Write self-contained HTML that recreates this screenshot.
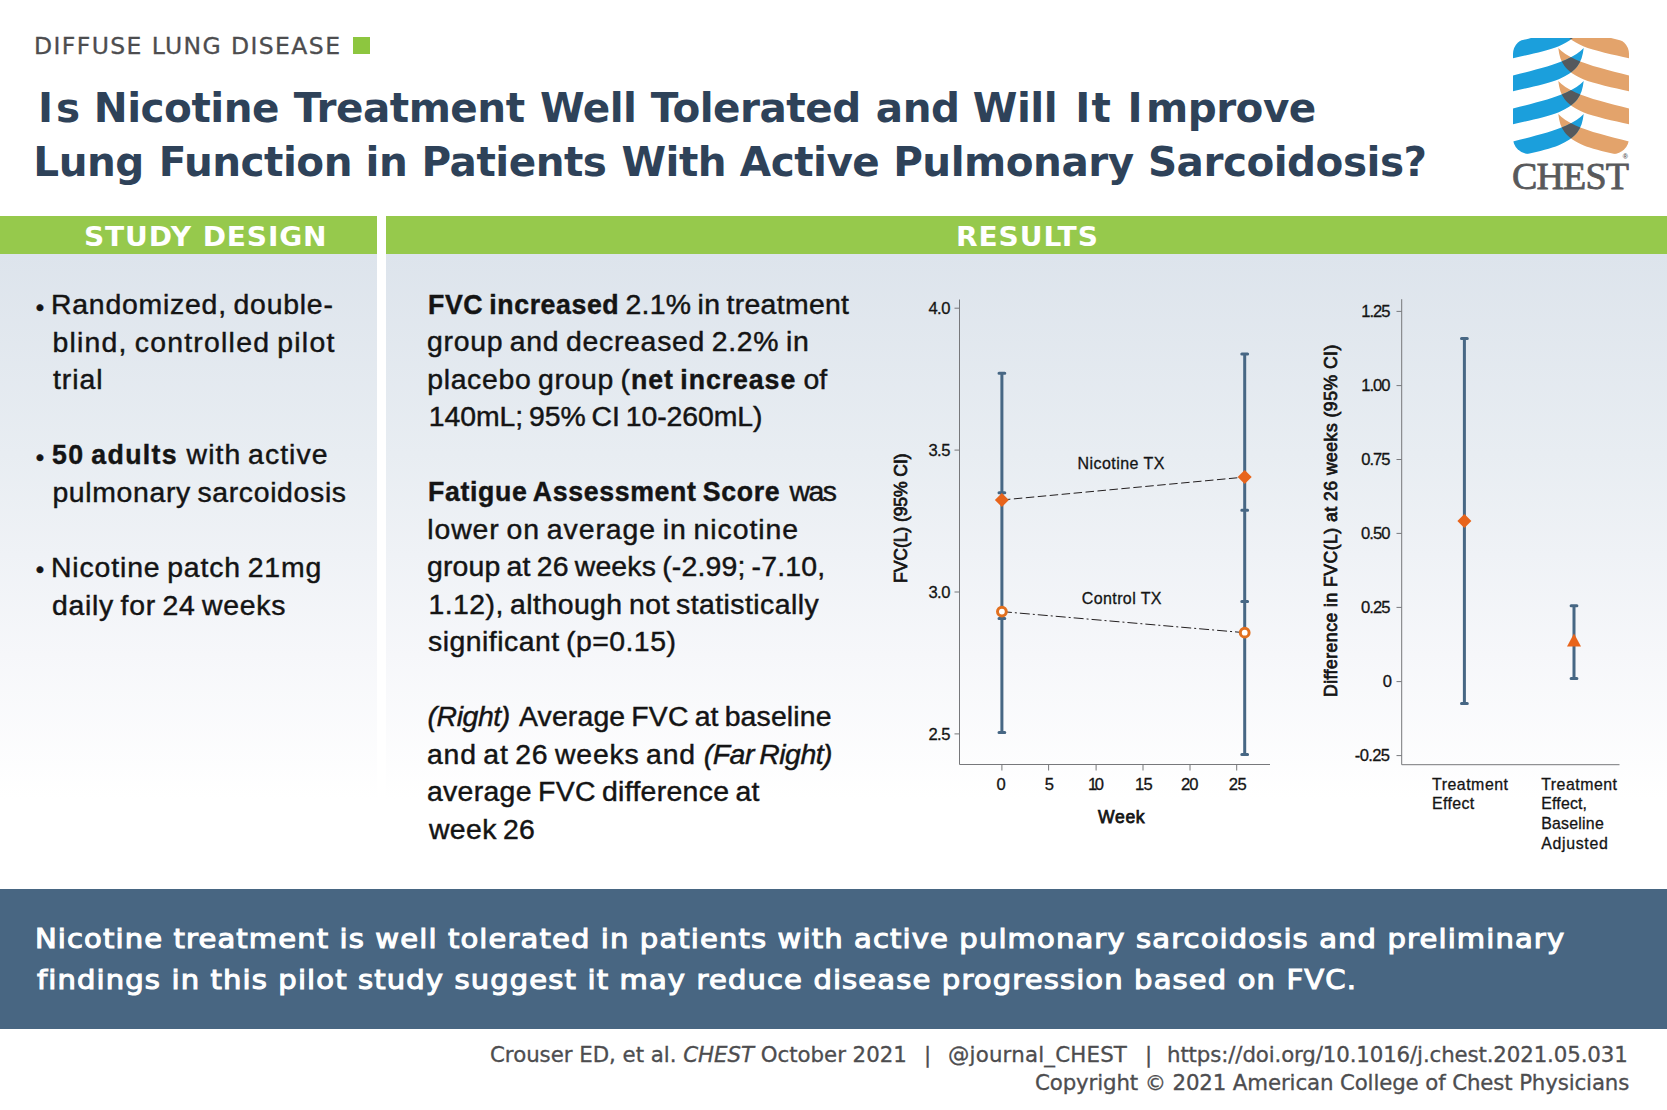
<!DOCTYPE html>
<html lang="en">
<head>
<meta charset="utf-8">
<title>Is Nicotine Treatment Well Tolerated and Will It Improve Lung Function in Patients With Active Pulmonary Sarcoidosis?</title>
<style>
html,body{margin:0;padding:0;background:#fff;}
body{width:1667px;height:1110px;overflow:hidden;position:relative;font-family:"Liberation Sans","DejaVu Sans",sans-serif;}
#page{position:absolute;left:0;top:0;width:1667px;height:1110px;overflow:hidden;background:#fff;}
.t{position:absolute;white-space:nowrap;margin:0;padding:0;}
.t i{font-style:italic;}
.sq{position:absolute;left:353px;top:37px;width:17px;height:17px;background:#8dc63f;}
.bar{position:absolute;top:216px;height:38px;background:#96c94c;}
.bar.l{left:0;width:377px;}
.bar.r{left:386px;width:1281px;}
.panel{position:absolute;top:254px;height:635px;background:linear-gradient(to bottom,#dde4ec 0px,#e8edf2 200px,#f6f7fa 400px,#ffffff 545px);}
.panel.l{left:0;width:377px;}
.panel.r{left:386px;width:1281px;}
.banner{position:absolute;left:0;top:889px;width:1667px;height:140px;background:#486682;}
svg{position:absolute;overflow:visible;}
.rot{position:absolute;white-space:nowrap;transform-origin:0 0;transform:rotate(-90deg);color:#141414;font-weight:400;-webkit-text-stroke:0.75px #141414;}
h1{margin:0;padding:0;font-size:inherit;font-weight:inherit;}
.f1{font:400 22.4px/22.4px "DejaVu Sans", "Liberation Sans", sans-serif;color:#4d4d4f;-webkit-text-stroke:0.3px #4d4d4f;transform:scaleX(1.05);transform-origin:0 50%;}
.f2{font:700 40.5px/40.5px "DejaVu Sans", "Liberation Sans", sans-serif;color:#2e4259;}
.f3{font:400 38px/38px "Liberation Serif", "DejaVu Serif", serif;color:#58595b;-webkit-text-stroke:0.8px #58595b;}
.f4{font:700 7px/7px "Liberation Sans", "DejaVu Sans", sans-serif;color:#58595b;}
.f5{font:700 26.5px/26.5px "DejaVu Sans", "Liberation Sans", sans-serif;color:#fff;transform:scaleX(1.06);transform-origin:0 50%;}
.f6{font:400 24px/24px "Liberation Sans", "DejaVu Sans", sans-serif;color:#141414;-webkit-text-stroke:0.45px #141414;word-spacing:-2px;}
.f7{font:400 28.4px/28.4px "Liberation Sans", "DejaVu Sans", sans-serif;color:#141414;-webkit-text-stroke:0.45px #141414;word-spacing:-2px;}
.f8{font:700 28.4px/28.4px "Liberation Sans", "DejaVu Sans", sans-serif;color:#141414;-webkit-text-stroke:0.45px #141414;word-spacing:-2px;transform:scaleX(0.94);transform-origin:0 50%;}
.f9{font:italic 400 28.4px/28.4px "Liberation Sans", "DejaVu Sans", sans-serif;color:#141414;-webkit-text-stroke:0.45px #141414;word-spacing:-2px;}
.f10{font:400 16.6px/16.6px "Liberation Sans", "DejaVu Sans", sans-serif;color:#141414;-webkit-text-stroke:0.3px #141414;}
.f11{font:400 17.6px/17.6px "Liberation Sans", "DejaVu Sans", sans-serif;color:#141414;-webkit-text-stroke:0.75px #141414;}
.f12{font:400 16.0px/16.0px "Liberation Sans", "DejaVu Sans", sans-serif;color:#141414;-webkit-text-stroke:0.3px #141414;}
.f13{font:400 15.9px/15.9px "Liberation Sans", "DejaVu Sans", sans-serif;color:#141414;-webkit-text-stroke:0.3px #141414;}
.f14{font:400 26.9px/26.9px "DejaVu Sans", "Liberation Sans", sans-serif;color:#fff;-webkit-text-stroke:1.1px #fff;transform:scaleX(1.08);transform-origin:0 50%;}
.f15{font:400 20.5px/20.5px "DejaVu Sans", "Liberation Sans", sans-serif;color:#4d4d4f;-webkit-text-stroke:0.3px #4d4d4f;transform:scaleX(1.04);transform-origin:0 50%;}
</style>

</head>
<body>
<div id="page">
<header>
<span class="t f1" id="cat" style="left:34.20px;top:34.61px;letter-spacing:1.321px">DIFFUSE LUNG DISEASE</span>
<h1>
<span class="t f2" id="t1_0" style="left:38.10px;top:87.71px;letter-spacing:-0.500px">I</span><span class="t f2" id="t1_1" style="left:55.95px;top:87.71px;letter-spacing:-0.500px">s </span>
<span class="t f2" id="t1_2" style="left:93.80px;top:87.71px;letter-spacing:-0.500px">Nicotine </span>
<span class="t f2" id="t1_3" style="left:293.85px;top:87.71px;letter-spacing:-0.500px">Treatment </span>
<span class="t f2" id="t1_4" style="left:540.00px;top:87.71px;letter-spacing:-0.500px">Well </span>
<span class="t f2" id="t1_5" style="left:650.65px;top:87.71px;letter-spacing:-0.500px">Tolerated </span>
<span class="t f2" id="t1_6" style="left:875.85px;top:87.71px;letter-spacing:-0.500px">and </span>
<span class="t f2" id="t1_7" style="left:972.75px;top:87.71px;letter-spacing:-0.500px">Will </span>
<span class="t f2" id="t1_8" style="left:1075.20px;top:87.71px;letter-spacing:-0.500px">I</span><span class="t f2" id="t1_9" style="left:1091.40px;top:87.71px;letter-spacing:-0.500px">t </span>
<span class="t f2" id="t1_10" style="left:1127.60px;top:87.71px;letter-spacing:-0.500px">I</span><span class="t f2" id="t1_11" style="left:1145.95px;top:87.71px;letter-spacing:-0.500px">mprove </span>
<span class="t f2" id="t2_0" style="left:33.35px;top:141.71px;letter-spacing:-0.500px">Lung </span>
<span class="t f2" id="t2_1" style="left:158.75px;top:141.71px;letter-spacing:-0.500px">Function </span>
<span class="t f2" id="t2_2" style="left:365.55px;top:141.71px;letter-spacing:-0.500px">in </span>
<span class="t f2" id="t2_3" style="left:421.50px;top:141.71px;letter-spacing:-0.500px">Patients </span>
<span class="t f2" id="t2_4" style="left:621.40px;top:141.71px;letter-spacing:-0.500px">With </span>
<span class="t f2" id="t2_5" style="left:739.85px;top:141.71px;letter-spacing:-0.500px">Active </span>
<span class="t f2" id="t2_6" style="left:893.20px;top:141.71px;letter-spacing:-0.500px">Pulmonary </span>
<span class="t f2" id="t2_7" style="left:1147.95px;top:141.71px;letter-spacing:-0.500px">Sarcoidosis? </span>
</h1>
<div class="sq"></div>
<div class="logo">
<svg width="116" height="116" viewBox="0 0 116 116" style="left:1513px;top:37.6px">
<defs>
<clipPath id="rr"><rect x="0" y="0" width="116" height="116" rx="16" ry="16"/></clipPath>
<clipPath id="oc">
<path transform="translate(116,-33) scale(-1,1)" d="M-2,38 L0,37.5 C20,32.6 40,27.6 53.4,21.6 C61,18 67,14 70.7,10 C69.9,17.5 68,23.5 64.5,28 C60.5,33.2 54.5,37.6 45.8,41.2 C35,45.6 15,49.8 0,53.3 L-2,53.8 Z"/>
<path transform="translate(116,0) scale(-1,1)" d="M-2,38 L0,37.5 C20,32.6 40,27.6 53.4,21.6 C61,18 67,14 70.7,10 C69.9,17.5 68,23.5 64.5,28 C60.5,33.2 54.5,37.6 45.8,41.2 C35,45.6 15,49.8 0,53.3 L-2,53.8 Z"/>
<path transform="translate(116,33) scale(-1,1)" d="M-2,38 L0,37.5 C20,32.6 40,27.6 53.4,21.6 C61,18 67,14 70.7,10 C69.9,17.5 68,23.5 64.5,28 C60.5,33.2 54.5,37.6 45.8,41.2 C35,45.6 15,49.8 0,53.3 L-2,53.8 Z"/>
<path transform="translate(116,66) scale(-1,1)" d="M-2,38 L0,37.5 C20,32.6 40,27.6 53.4,21.6 C61,18 67,14 70.7,10 C69.9,17.5 68,23.5 64.5,28 C60.5,33.2 54.5,37.6 45.8,41.2 C35,45.6 15,49.8 0,53.3 L-2,53.8 Z"/>
</clipPath>
</defs>
<g clip-path="url(#rr)">
<g fill="#e3a36b">
<path transform="translate(116,-33) scale(-1,1)" d="M-2,38 L0,37.5 C20,32.6 40,27.6 53.4,21.6 C61,18 67,14 70.7,10 C69.9,17.5 68,23.5 64.5,28 C60.5,33.2 54.5,37.6 45.8,41.2 C35,45.6 15,49.8 0,53.3 L-2,53.8 Z"/>
<path transform="translate(116,0) scale(-1,1)" d="M-2,38 L0,37.5 C20,32.6 40,27.6 53.4,21.6 C61,18 67,14 70.7,10 C69.9,17.5 68,23.5 64.5,28 C60.5,33.2 54.5,37.6 45.8,41.2 C35,45.6 15,49.8 0,53.3 L-2,53.8 Z"/>
<path transform="translate(116,33) scale(-1,1)" d="M-2,38 L0,37.5 C20,32.6 40,27.6 53.4,21.6 C61,18 67,14 70.7,10 C69.9,17.5 68,23.5 64.5,28 C60.5,33.2 54.5,37.6 45.8,41.2 C35,45.6 15,49.8 0,53.3 L-2,53.8 Z"/>
<path transform="translate(116,66) scale(-1,1)" d="M-2,38 L0,37.5 C20,32.6 40,27.6 53.4,21.6 C61,18 67,14 70.7,10 C69.9,17.5 68,23.5 64.5,28 C60.5,33.2 54.5,37.6 45.8,41.2 C35,45.6 15,49.8 0,53.3 L-2,53.8 Z"/>
</g>
<g fill="#1b9fdc">
<path transform="translate(0,-33)" d="M-2,38 L0,37.5 C20,32.6 40,27.6 53.4,21.6 C61,18 67,14 70.7,10 C69.9,17.5 68,23.5 64.5,28 C60.5,33.2 54.5,37.6 45.8,41.2 C35,45.6 15,49.8 0,53.3 L-2,53.8 Z"/>
<path transform="translate(0,0)" d="M-2,38 L0,37.5 C20,32.6 40,27.6 53.4,21.6 C61,18 67,14 70.7,10 C69.9,17.5 68,23.5 64.5,28 C60.5,33.2 54.5,37.6 45.8,41.2 C35,45.6 15,49.8 0,53.3 L-2,53.8 Z"/>
<path transform="translate(0,33)" d="M-2,38 L0,37.5 C20,32.6 40,27.6 53.4,21.6 C61,18 67,14 70.7,10 C69.9,17.5 68,23.5 64.5,28 C60.5,33.2 54.5,37.6 45.8,41.2 C35,45.6 15,49.8 0,53.3 L-2,53.8 Z"/>
<path transform="translate(0,66)" d="M-2,38 L0,37.5 C20,32.6 40,27.6 53.4,21.6 C61,18 67,14 70.7,10 C69.9,17.5 68,23.5 64.5,28 C60.5,33.2 54.5,37.6 45.8,41.2 C35,45.6 15,49.8 0,53.3 L-2,53.8 Z"/>
</g>
<g fill="#54595d" clip-path="url(#oc)">
<path transform="translate(0,-33)" d="M-2,38 L0,37.5 C20,32.6 40,27.6 53.4,21.6 C61,18 67,14 70.7,10 C69.9,17.5 68,23.5 64.5,28 C60.5,33.2 54.5,37.6 45.8,41.2 C35,45.6 15,49.8 0,53.3 L-2,53.8 Z"/>
<path transform="translate(0,0)" d="M-2,38 L0,37.5 C20,32.6 40,27.6 53.4,21.6 C61,18 67,14 70.7,10 C69.9,17.5 68,23.5 64.5,28 C60.5,33.2 54.5,37.6 45.8,41.2 C35,45.6 15,49.8 0,53.3 L-2,53.8 Z"/>
<path transform="translate(0,33)" d="M-2,38 L0,37.5 C20,32.6 40,27.6 53.4,21.6 C61,18 67,14 70.7,10 C69.9,17.5 68,23.5 64.5,28 C60.5,33.2 54.5,37.6 45.8,41.2 C35,45.6 15,49.8 0,53.3 L-2,53.8 Z"/>
<path transform="translate(0,66)" d="M-2,38 L0,37.5 C20,32.6 40,27.6 53.4,21.6 C61,18 67,14 70.7,10 C69.9,17.5 68,23.5 64.5,28 C60.5,33.2 54.5,37.6 45.8,41.2 C35,45.6 15,49.8 0,53.3 L-2,53.8 Z"/>
</g>
</g>
</svg>
<span class="t f3" id="chest" style="left:1512.00px;top:156.81px;letter-spacing:-0.875px">CHEST</span>
<span class="t f4" id="reg" style="left:1622.80px;top:152.60px;letter-spacing:0.000px">®</span>
</div>
</header>
<div class="bar l"></div>
<div class="bar r"></div>
<span class="t f5" id="sd" style="left:84.40px;top:223.50px;letter-spacing:0.791px">STUDY DESIGN</span>
<span class="t f5" id="rs" style="left:956.00px;top:223.50px;letter-spacing:0.850px">RESULTS</span>
<section class="panel l"></section>
<section class="panel r"></section>
<section class="study">
<span class="t f6" id="bu0" style="left:35.80px;top:295.51px;letter-spacing:0.000px">•</span>
<span class="t f6" id="bu1" style="left:35.80px;top:445.51px;letter-spacing:0.000px">•</span>
<span class="t f6" id="bu2" style="left:35.80px;top:558.30px;letter-spacing:0.000px">•</span>
<span class="t f7" id="lp1" style="left:51.00px;top:290.20px;letter-spacing:0.778px">Randomized, double-</span>
<span class="t f7" id="lp2" style="left:52.40px;top:327.81px;letter-spacing:1.232px">blind, controlled pilot</span>
<span class="t f7" id="lp3" style="left:53.00px;top:365.41px;letter-spacing:0.975px">trial</span>
<span class="t f8" id="lp4a" style="left:51.80px;top:440.20px;letter-spacing:1.450px">50 adults</span>
<span class="t f7" id="lp4b" style="left:186.60px;top:440.20px;letter-spacing:1.030px">with active</span>
<span class="t f7" id="lp5" style="left:52.40px;top:477.91px;letter-spacing:0.660px">pulmonary sarcoidosis</span>
<span class="t f7" id="lp6" style="left:51.00px;top:553.01px;letter-spacing:0.861px">Nicotine patch 21mg</span>
<span class="t f7" id="lp7" style="left:52.00px;top:590.71px;letter-spacing:0.718px">daily for 24 weeks</span>
</section>
<section class="results">
<span class="t f8" id="r1a" style="left:428.20px;top:289.50px;letter-spacing:0.633px">FVC increased</span>
<span class="t f7" id="r1b" style="left:625.40px;top:289.50px;letter-spacing:0.319px">2.1% in treatment</span>
<span class="t f7" id="r2" style="left:427.00px;top:327.03px;letter-spacing:0.723px">group and decreased 2.2% in</span>
<span class="t f7" id="r3a" style="left:427.20px;top:364.54px;letter-spacing:0.680px">placebo group (</span>
<span class="t f8" id="r3b" style="left:631.00px;top:364.54px;letter-spacing:1.000px">net increase</span>
<span class="t f7" id="r3c" style="left:803.40px;top:364.54px;letter-spacing:0.000px">of</span>
<span class="t f7" id="r4" style="left:428.80px;top:402.07px;letter-spacing:-0.050px">140mL; 95% CI 10-260mL)</span>
<span class="t f8" id="r5a" style="left:428.20px;top:477.11px;letter-spacing:0.704px">Fatigue Assessment Score</span>
<span class="t f7" id="r5b" style="left:789.40px;top:477.11px;letter-spacing:-1.450px">was</span>
<span class="t f7" id="r6" style="left:427.20px;top:514.63px;letter-spacing:0.937px">lower on average in nicotine</span>
<span class="t f7" id="r7" style="left:427.00px;top:552.15px;letter-spacing:0.181px">group at 26 weeks (-2.99; -7.10,</span>
<span class="t f7" id="r8" style="left:428.50px;top:589.67px;letter-spacing:0.444px">1.12), although not statistically</span>
<span class="t f7" id="r9" style="left:428.00px;top:627.18px;letter-spacing:0.484px">significant (p=0.15)</span>
<span class="t f9" id="r10a" style="left:427.50px;top:702.22px;letter-spacing:-0.400px">(Right)</span>
<span class="t f7" id="r10b" style="left:519.00px;top:702.22px;letter-spacing:0.155px">Average FVC at baseline</span>
<span class="t f7" id="r11a" style="left:427.00px;top:739.75px;letter-spacing:0.778px">and at 26 weeks and</span>
<span class="t f9" id="r11b" style="left:703.80px;top:739.75px;letter-spacing:-0.490px">(Far Right)</span>
<span class="t f7" id="r12" style="left:427.00px;top:777.26px;letter-spacing:0.317px">average FVC difference at</span>
<span class="t f7" id="r13" style="left:429.00px;top:814.79px;letter-spacing:0.350px">week 26</span>
</section>
<svg class="charts" width="1667" height="1110" viewBox="0 0 1667 1110" style="left:0;top:0">
<g fill="none" stroke="#77787b" stroke-width="1">
<path d="M959.5,299.5 V764.5 H1270"/>
<path d="M954.5,308.2 H959.5 M954.5,450.1 H959.5 M954.5,592 H959.5 M954.5,733.9 H959.5"/>
<path d="M1001.9,764.5 V770.5 M1048.6,764.5 V770.5 M1096.1,764.5 V770.5 M1143,764.5 V770.5 M1190,764.5 V770.5 M1236.7,764.5 V770.5"/>
<path d="M1401.7,299.2 V764.7 H1619.5"/>
<path d="M1396.5,311.4 H1401.7 M1396.5,385.6 H1401.7 M1396.5,459.5 H1401.7 M1396.5,533.4 H1401.7 M1396.5,607.4 H1401.7 M1396.5,681.6 H1401.7 M1396.5,755.6 H1401.7"/>
</g>
<g fill="none" stroke="#476784" stroke-width="3" stroke-linecap="round">
<path d="M1001.9,373.2 V732.5 M999,373.2 H1004.8 M999,492.7 H1004.8 M999,618.6 H1004.8 M999,732.5 H1004.8"/>
<path d="M1244.7,354 V754.4 M1241.8,354 H1247.6 M1241.8,510.2 H1247.6 M1241.8,601.4 H1247.6 M1241.8,754.4 H1247.6"/>
<path d="M1464.4,338.6 V703.6 M1461.5,338.6 H1467.3 M1461.5,703.6 H1467.3"/>
<path d="M1574,605.8 V678.4 M1571.1,605.8 H1576.9 M1571.1,678.4 H1576.9"/>
</g>
<g fill="none" stroke="#231f20" stroke-width="1">
<path d="M1001.9,500 L1244.7,477.1" stroke-dasharray="8.5 3.5"/>
<path d="M1001.9,611.6 L1244.7,632.7" stroke-dasharray="10 3 2 3"/>
</g>
<g fill="#e8641b">
<path d="M1001.9,493 l7,7 l-7,7 l-7,-7 z"/>
<path d="M1244.7,470.1 l7,7 l-7,7 l-7,-7 z"/>
<path d="M1464.4,514 l7,7 l-7,7 l-7,-7 z"/>
<path d="M1574,633.5 l7,13 h-14 z"/>
</g>
<g fill="#fff" stroke="#e2701f" stroke-width="3">
<circle cx="1001.9" cy="611.6" r="4.4"/>
<circle cx="1244.7" cy="632.7" r="4.4"/>
</g>
</svg>
<section class="chart1">
<span class="t f10" id="c1y4_0" style="left:928.40px;top:300.80px;letter-spacing:-0.500px">4.0</span>
<span class="t f10" id="c1y3_5" style="left:928.40px;top:442.72px;letter-spacing:-0.500px">3.5</span>
<span class="t f10" id="c1y3_0" style="left:928.40px;top:584.60px;letter-spacing:-0.500px">3.0</span>
<span class="t f10" id="c1y2_5" style="left:928.40px;top:726.51px;letter-spacing:-0.500px">2.5</span>
<span class="t f10" id="c1x0" style="left:996.60px;top:776.80px;letter-spacing:0.000px">0</span>
<span class="t f10" id="c1x5" style="left:1044.80px;top:776.80px;letter-spacing:0.000px">5</span>
<span class="t f10" id="c1x10" style="left:1088.00px;top:776.80px;letter-spacing:-2.500px">10</span>
<span class="t f10" id="c1x15" style="left:1135.00px;top:776.80px;letter-spacing:-0.800px">15</span>
<span class="t f10" id="c1x20" style="left:1181.00px;top:776.80px;letter-spacing:-1.000px">20</span>
<span class="t f10" id="c1x25" style="left:1228.80px;top:776.80px;letter-spacing:-0.500px">25</span>
<span class="t f11" id="week" style="left:1098.00px;top:809.31px;letter-spacing:0.667px">Week</span>
<span class="t f12" id="ntx" style="left:1077.40px;top:455.81px;letter-spacing:0.460px">Nicotine TX</span>
<span class="t f12" id="ctx" style="left:1081.80px;top:590.81px;letter-spacing:0.389px">Control TX</span>
<span class="rot" id="yl1" style="left:892.8px;top:583px;letter-spacing:-0.1px;font-size:17.6px;line-height:17.6px;">FVC(L) (95% CI)</span>
</section>
<section class="chart2">
<span class="t f10" id="c2y1_25" style="left:1361.20px;top:304.01px;letter-spacing:-1.000px">1.25</span>
<span class="t f10" id="c2y1_00" style="left:1361.20px;top:378.22px;letter-spacing:-1.000px">1.00</span>
<span class="t f10" id="c2y0_75" style="left:1361.20px;top:452.10px;letter-spacing:-1.000px">0.75</span>
<span class="t f10" id="c2y0_50" style="left:1361.00px;top:526.01px;letter-spacing:-0.933px">0.50</span>
<span class="t f10" id="c2y0_25" style="left:1361.00px;top:600.01px;letter-spacing:-0.933px">0.25</span>
<span class="t f10" id="c2y0" style="left:1382.80px;top:674.22px;letter-spacing:0.000px">0</span>
<span class="t f10" id="c2ym0_25" style="left:1354.80px;top:748.22px;letter-spacing:-0.650px">-0.25</span>
<span class="t f13" id="c2a1" style="left:1432.00px;top:776.60px;letter-spacing:0.525px">Treatment</span>
<span class="t f13" id="c2a2" style="left:1432.00px;top:796.41px;letter-spacing:0.360px">Effect</span>
<span class="t f13" id="c2b1" style="left:1541.20px;top:776.60px;letter-spacing:0.500px">Treatment</span>
<span class="t f13" id="c2b2" style="left:1541.20px;top:796.41px;letter-spacing:0.183px">Effect,</span>
<span class="t f13" id="c2b3" style="left:1541.20px;top:816.30px;letter-spacing:0.229px">Baseline</span>
<span class="t f13" id="c2b4" style="left:1541.20px;top:836.10px;letter-spacing:0.686px">Adjusted</span>
<span class="rot" id="yl2" style="left:1322.5px;top:697px;letter-spacing:0.48px;font-size:17.6px;line-height:17.6px;">Difference in FVC(L) at 26 weeks (95% CI)</span>
</section>
<div class="banner"></div>
<span class="t f14" id="b1" style="left:35.40px;top:925.91px;letter-spacing:1.032px">Nicotine treatment is well tolerated in patients with active pulmonary sarcoidosis and preliminary</span>
<span class="t f14" id="b2" style="left:37.40px;top:967.41px;letter-spacing:1.035px">findings in this pilot study suggest it may reduce disease progression based on FVC.</span>
<footer>
<span class="t f15" id="f1a" style="left:490.40px;top:1044.70px;letter-spacing:-0.028px">Crouser ED, et al. <i>CHEST</i> October 2021</span>
<span class="t f15" id="f1s1" style="left:924.00px;top:1044.70px;letter-spacing:0.000px">|</span>
<span class="t f15" id="f1b" style="left:948.00px;top:1044.70px;letter-spacing:0.192px">@journal_CHEST</span>
<span class="t f15" id="f1s2" style="left:1144.80px;top:1044.70px;letter-spacing:0.000px">|</span>
<span class="t f15" id="f1c" style="left:1167.00px;top:1044.70px;letter-spacing:-0.124px">https://doi.org/10.1016/j.chest.2021.05.031</span>
<span class="t f15" id="f2" style="left:1034.80px;top:1073.41px;letter-spacing:-0.125px">Copyright © 2021 American College of Chest Physicians</span>
</footer>
</div>

</body>
</html>
